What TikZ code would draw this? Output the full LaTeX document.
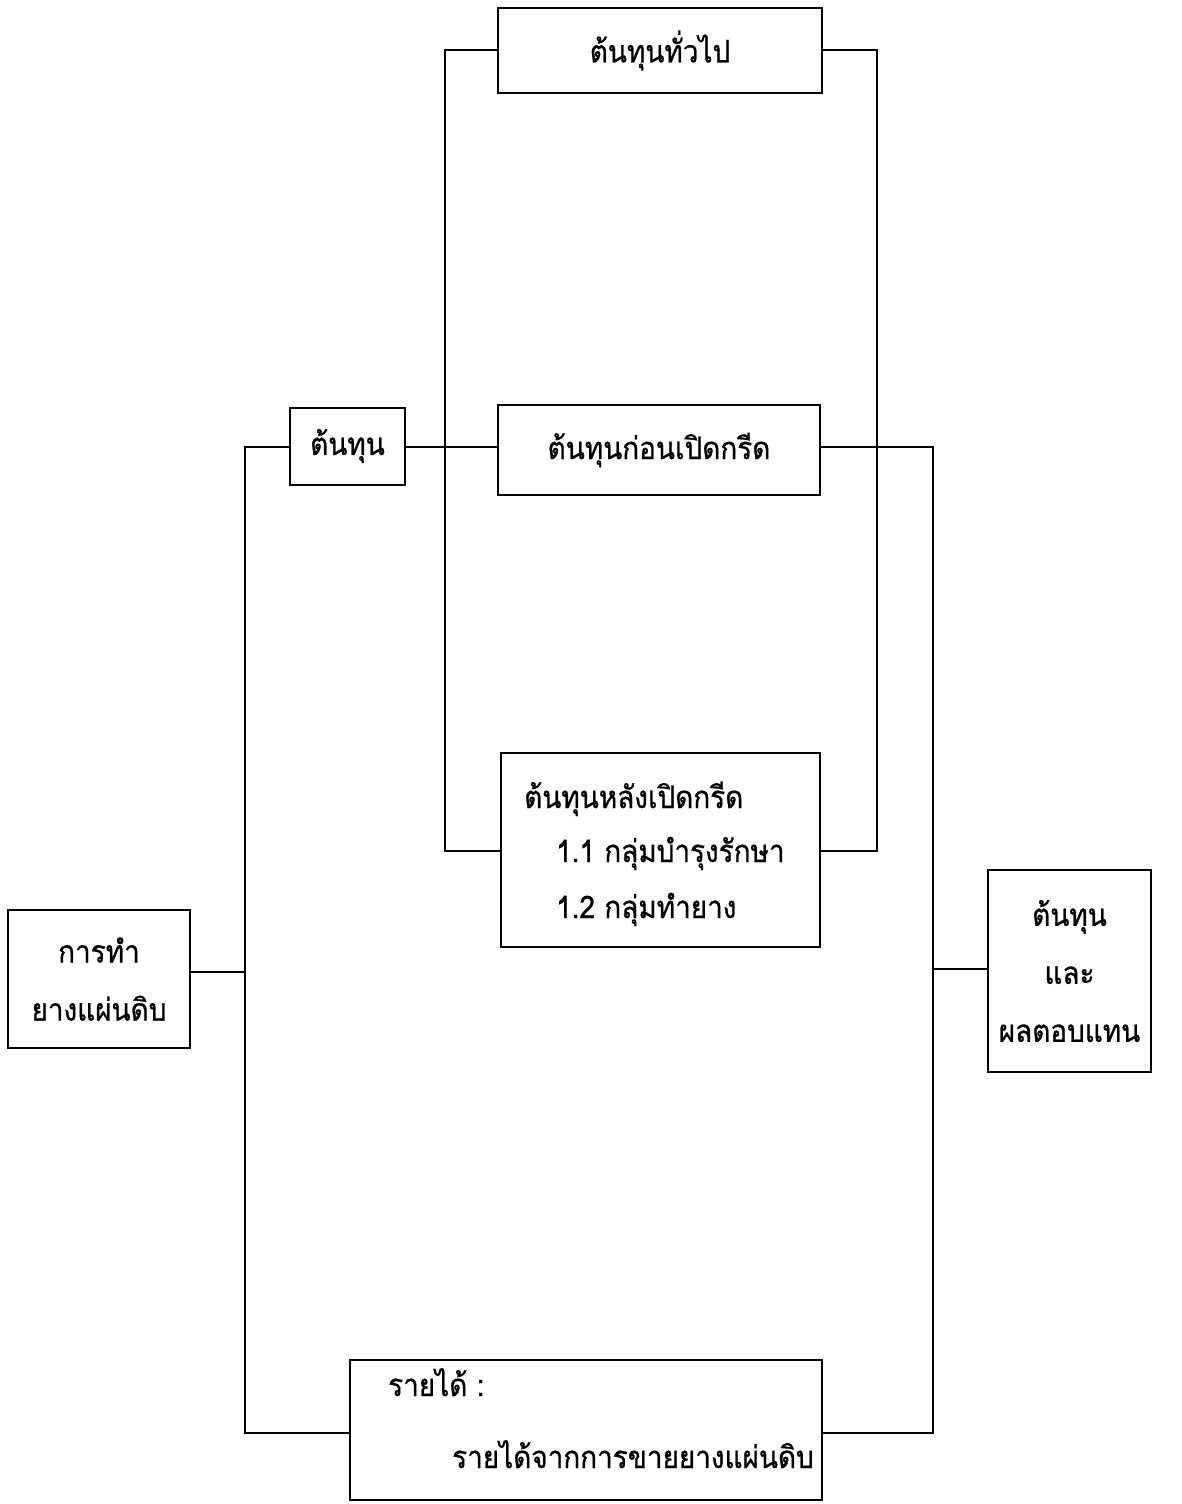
\documentclass[tikz,border=0pt]{standalone}
\usepackage{fontspec}
\newfontfamily\thai[Script=Thai,FakeStretch=0.9,FakeBold=0.8]{Loma}
\begin{document}
\begin{tikzpicture}[x=1pt,y=-1pt,
  box/.style={draw, line width=2pt, inner sep=0pt, font=\thai\fontsize{31}{58}\selectfont, align=center},
  txt/.style={inner sep=0pt, font=\thai\fontsize{31}{36}\selectfont},
  wire/.style={line width=2pt}]
\useasboundingbox (0,0) rectangle (1181,1504);
\node[box, minimum width=324, minimum height=85] (gen) at (660,50.5) {ต้นทุนทั่วไป};
\node[box, minimum width=115, minimum height=77] (cost) at (347.5,446) {ต้นทุน};
\node[box, minimum width=322, minimum height=90] (pre) at (659,450) {ต้นทุนก่อนเปิดกรีด};
\node[box, minimum width=319, minimum height=194] (post) at (660.5,850) {};
\node[txt, anchor=base west] (postA) at (524,808) {ต้นทุนหลังเปิดกรีด};
\node[txt, anchor=base west] (postB) at (556,862) {1.1 กลุ่มบำรุงรักษา};
\node[txt, anchor=base west] (postC) at (556,918) {1.2 กลุ่มทำยาง};
\node[box, minimum width=182, minimum height=138] (make) at (99,979) {การทำ\\ยางแผ่นดิบ};
\node[box, minimum width=163, minimum height=202] (result) at (1069.5,971) {ต้นทุน\\และ\\ผลตอบแทน};
\node[box, minimum width=472, minimum height=140] (income) at (586,1430) {};
\node[txt, anchor=base west] (incA) at (388,1396) {รายได้ :};
\node[txt, anchor=base west] (incB) at (452,1468) {รายได้จากการขายยางแผ่นดิบ};
% coordinates of junctions
\coordinate (jl) at (245,447);
\coordinate (jlb) at (245,1433);
\coordinate (jm) at (445,50);
\coordinate (jmb) at (445,851);
\coordinate (jr) at (877,50);
\coordinate (jrb) at (877,851);
\coordinate (jo) at (933,447);
\coordinate (job) at (933,1433);
% left trunk
\draw[wire] (make.east |- 0,972) -- (245,972);
\draw[wire] (cost.west |- jl) -- (jl) -- (jlb) -- (income.west |- jlb);
\draw[wire] (cost.east |- jl) -- (pre.west |- jl);
% middle trunks
\draw[wire] (gen.west |- jm) -- (jm) -- (jmb) -- (post.west |- jmb);
\draw[wire] (gen.east |- jr) -- (jr) -- (jrb) -- (post.east |- jrb);
% right trunk
\draw[wire] (pre.east |- jo) -- (jo) -- (job) -- (income.east |- job);
\draw[wire] (933,969) -- (result.west |- 0,969);
\end{tikzpicture}
\end{document}
